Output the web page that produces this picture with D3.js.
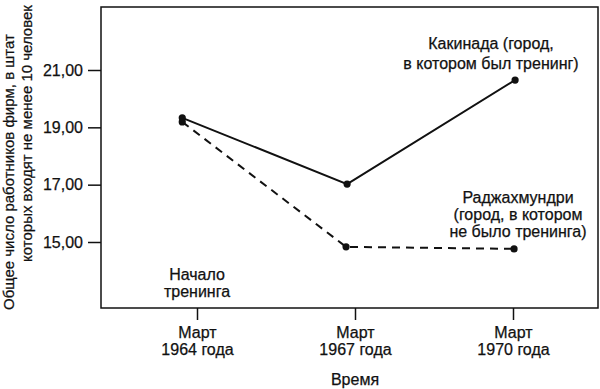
<!DOCTYPE html>
<html>
<head>
<meta charset="utf-8">
<script src="https://cdn.jsdelivr.net/npm/d3@7"></script>
<style>
  body { margin: 0; background: #fff; }
  svg { display: block; }
  text { font-family: "Liberation Sans", Arial, sans-serif; font-size: 16px; fill: #111; stroke: #111; stroke-width: 0.25; }
  .axis path { display: none; }
  .axis line { stroke: #111; stroke-width: 1.5; }
  .axis text { font-size: 16px; }
  .ylabel { font-size: 15px; }
</style>
</head>
<body>
<svg id="chart" width="600" height="389"></svg>
<script>
const yearTicks = [1964, 1967, 1970]
const tickLabels = [["Март", "1964 года"], ["Март", "1967 года"], ["Март", "1970 года"]]
const kakinadaX = [1963.72, 1966.85, 1970.04]
const kakinadaY = [19.33, 17.02, 20.65]
const rajX = [1963.72, 1966.83, 1970.02]
const rajY = [19.19, 14.83, 14.76]
const yTicks = [15, 17, 19, 21]

let svg = d3.select("#chart")

let mLeft = 101, mRight = 598, mTop = 7, mBottom = 308

let xScale = d3.scaleLinear().domain([1964, 1970]).range([197, 513])
let yScale = d3.scaleLinear().domain([15, 21]).range([242, 70])

// frame
svg.append("rect")
    .attr("x", mLeft).attr("y", mTop)
    .attr("width", mRight - mLeft).attr("height", mBottom - mTop)
    .attr("fill", "none").attr("stroke", "#111").attr("stroke-width", 1.5)

// Y axis
let y_axis = d3.axisLeft(yScale).tickValues(yTicks).tickSize(13).tickPadding(5)
    .tickFormat(d => d3.format(".2f")(d).replace(".", ","))
svg.append("g").attr("class", "axis")
    .attr("transform", `translate(${mLeft},0)`)
    .call(y_axis)

// X axis
let x_axis = d3.axisBottom(xScale).tickValues(yearTicks).tickSize(12).tickFormat("")
let gx = svg.append("g").attr("class", "axis")
    .attr("transform", `translate(0,${mBottom})`)
    .call(x_axis)
gx.selectAll(".tick").each(function (d, i) {
    let t = d3.select(this).append("text")
        .attr("text-anchor", "middle").attr("fill", "#111")
    tickLabels[i].forEach(function (s, j) {
        t.append("tspan").attr("x", 0).attr("y", 30 + j * 17).text(s)
    })
})

// axis titles
svg.append("text").attr("x", 355).attr("y", 385)
    .attr("text-anchor", "middle").text("Время")

let ylab = svg.append("g")
ylab.append("text").attr("class", "ylabel")
    .attr("transform", `translate(14,310) rotate(-90)`)
    .attr("text-anchor", "start")
    .text("Общее число работников фирм, в штат")
ylab.append("text").attr("class", "ylabel")
    .attr("transform", `translate(32,262) rotate(-90)`)
    .attr("text-anchor", "start")
    .text("которых входят не менее 10 человек")

// lines
let line = d3.line().x(d => xScale(d[0])).y(d => yScale(d[1]))
let kak = kakinadaX.map((x, i) => [x, kakinadaY[i]])
let raj = rajX.map((x, i) => [x, rajY[i]])

svg.append("path").datum(raj).attr("d", line)
    .attr("fill", "none").attr("stroke", "#111").attr("stroke-width", 2)
    .attr("stroke-dasharray", "8,6")
svg.append("path").datum(kak).attr("d", line)
    .attr("fill", "none").attr("stroke", "#111").attr("stroke-width", 2)

svg.selectAll(".markers")
    .data(kak.concat(raj))
    .enter()
    .append("circle")
    .attr("class", "markers")
    .attr("cx", d => xScale(d[0]))
    .attr("cy", d => yScale(d[1]))
    .attr("r", 3.6)
    .attr("fill", "#111")

// annotations
function note(x, y, lines, step) {
    let t = svg.append("text").attr("text-anchor", "middle")
    lines.forEach(function (s, j) {
        t.append("tspan").attr("x", x).attr("y", y + j * step).text(s)
    })
}
note(491, 49, ["Какинада (город,", "в котором был тренинг)"], 20)
note(518, 203, ["Раджахмундри", "(город, в котором", "не было тренинга)"], 17)
note(197, 280, ["Начало", "тренинга"], 17)
</script>
</body>
</html>
